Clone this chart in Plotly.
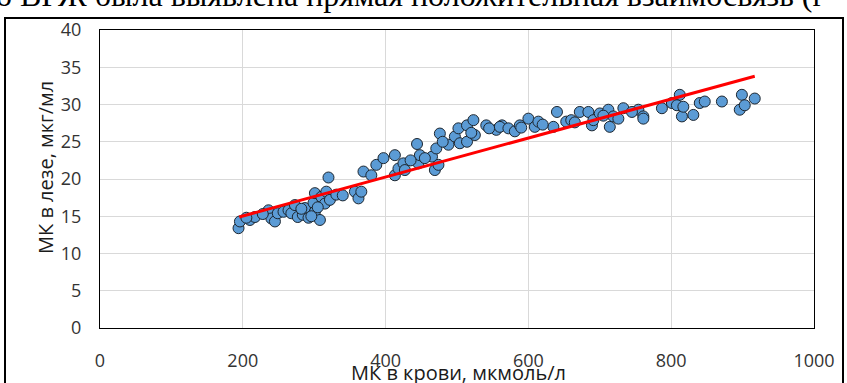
import plotly.graph_objects as go

# Scatter data: uric acid in blood (x) vs in saliva (y)
blood_uric = [194, 196, 210, 217, 236, 240, 245, 249, 257, 264, 268, 273, 277, 284, 287, 292,
              299, 301, 308, 312, 301, 310, 317, 320, 315, 322, 331, 357, 362, 366, 369,
              380, 387, 397, 413, 413, 418, 425, 427, 444, 446, 448, 465, 469, 471, 474,
              476, 488, 497, 502, 504, 514, 514, 523, 525, 541, 555, 563, 560, 572, 581, 588,
              600, 609, 614, 635, 640, 653, 660, 672, 684, 689, 691, 700, 712, 714, 719, 726,
              733, 754, 761, 761, 787, 801, 815, 812, 808, 817, 831, 840, 847, 871, 899,
              896, 903, 917, 205, 228, 282, 296, 305, 340, 435, 455, 480, 520, 545, 590, 620,
              665, 705, 745]
saliva_uric = [13.4, 14.3, 14.5, 14.9, 15.8, 14.7, 14.3, 15.4, 15.6, 15.8, 15.4, 16.5, 14.9, 15.2, 16.1, 14.8,
               16.8, 15.6, 14.5, 17.2, 18.1, 17.6, 18.3, 20.2, 16.7, 17.2, 17.9, 18.3, 17.4, 18.3, 21.0,
               20.5, 21.9, 22.8, 23.2, 20.5, 21.4, 22.1, 21.2, 24.7, 22.1, 23.2, 23.0, 21.2, 24.1, 21.9,
               26.1, 24.6, 25.7, 26.8, 24.8, 27.2, 25.0, 27.9, 25.9, 27.2, 26.6, 27.2, 27.0, 26.8, 26.4, 27.2,
               28.1, 27.0, 27.7, 27.0, 29.0, 27.7, 27.9, 29.0, 29.0, 27.2, 27.9, 28.8, 29.3, 27.0, 28.4, 28.1,
               29.5, 29.3, 28.4, 28.1, 29.5, 30.2, 28.4, 31.3, 29.9, 29.7, 28.6, 30.2, 30.4, 30.4, 31.3,
               29.3, 29.9, 30.8, 14.8, 15.3, 16.0, 15.0, 16.2, 17.8, 22.5, 22.8, 25.0, 26.2, 26.8, 26.9, 27.3,
               27.6, 28.5, 29.0]

# Linear trendline endpoints
trend_x = [195, 917]
trend_y = [14.9, 33.8]

x_ticks = [0, 200, 400, 600, 800, 1000]
y_ticks = [0, 5, 10, 15, 20, 25, 30, 35, 40]

x_title = "МК в крови, мкмоль/л"
y_title = "МК в лезе, мкг/мл"
top_text = "о ВРЖ была выявлена прямая положительная взаимосвязь (r"

W, H = 847, 383
L, R, T, B = 100, 814, 30, 328
pw, ph = R - L, B - T


def px(xpix):
    return (xpix - L) / pw


def py(ypix):
    return (B - ypix) / ph


fig = go.Figure()
fig.add_trace(go.Scatter(
    x=blood_uric, y=saliva_uric, mode="markers",
    marker=dict(size=11, color="#5b9bd5", line=dict(color="#1c2630", width=1)),
    showlegend=False, cliponaxis=False, hoverinfo="skip",
))
fig.add_trace(go.Scatter(
    x=trend_x, y=trend_y, mode="lines",
    line=dict(color="#ff0000", width=3), showlegend=False, hoverinfo="skip",
))

font_main = "Open Sans, sans-serif"

fig.update_layout(
    width=W, height=H,
    margin=dict(l=L, r=W - R, t=T, b=H - B, autoexpand=False),
    paper_bgcolor="white", plot_bgcolor="white",
    xaxis=dict(range=[0, 1000], tickvals=x_ticks, showgrid=True, gridcolor="#d9d9d9", gridwidth=1,
               showline=True, mirror=True, linecolor="#000000", linewidth=1, zeroline=False,
               automargin=False,
               ticks="", ticklabelstandoff=16, tickfont=dict(family=font_main, size=18, color="#333333")),
    yaxis=dict(range=[0, 40], tickvals=y_ticks, showgrid=True, gridcolor="#d9d9d9", gridwidth=1,
               showline=True, mirror=True, linecolor="#000000", linewidth=1, zeroline=False,
               automargin=False,
               ticks="", ticklabelstandoff=14, tickfont=dict(family=font_main, size=18, color="#333333")),
    shapes=[dict(type="rect", xref="paper", yref="paper",
                 x0=px(5), x1=px(843), y0=py(395), y1=py(18),
                 line=dict(color="black", width=2), fillcolor="rgba(0,0,0,0)", layer="above")],
    annotations=[
        dict(text=x_title, xref="paper", yref="paper", x=px(458), y=py(372), showarrow=False,
             xanchor="center", yanchor="middle", font=dict(family=font_main, size=20, color="#1a1a1a")),
        dict(text=y_title, xref="paper", yref="paper", x=px(45), y=py(168), showarrow=False,
             textangle=-90, xanchor="center", yanchor="middle",
             font=dict(family=font_main, size=20, color="#1a1a1a")),
        dict(text=top_text, xref="paper", yref="paper", x=px(-6), y=py(15), showarrow=False,
             xanchor="left", yanchor="bottom",
             font=dict(family="Liberation Serif, Times New Roman, serif", size=32, color="black")),
    ],
)

fig.write_html(
    "out.html",
    config={"displayModeBar": False},
    post_script="document.body.style.margin='0';document.body.style.overflow='hidden';",
)
